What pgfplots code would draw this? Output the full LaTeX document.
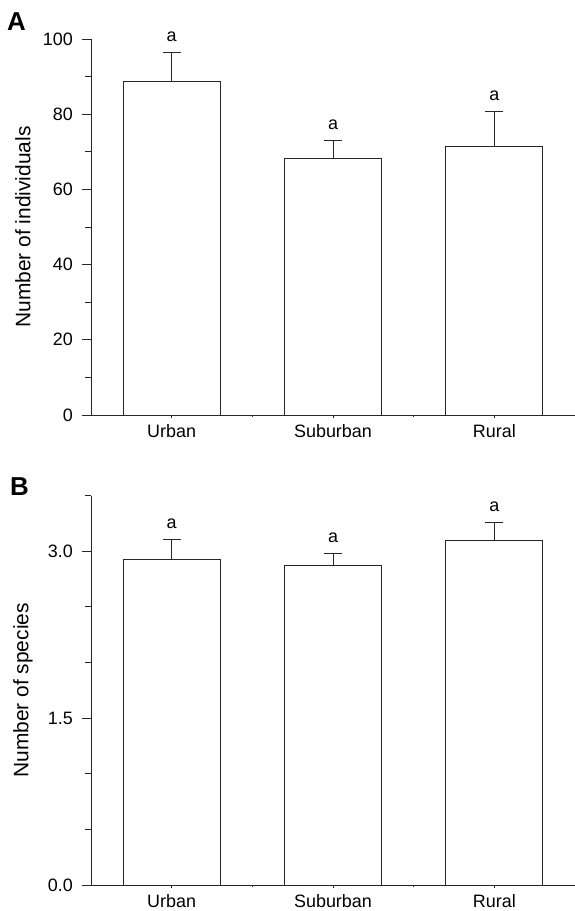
\documentclass[border=0pt]{standalone}
\usepackage{pgfplots}
\pgfplotsset{compat=1.18}
\usepackage{fontspec}
\setmainfont{Liberation Sans}

\pgfplotsset{
  panel/.style={
    scale only axis, width=484bp,
    xmin=-0.5, xmax=2.5, ymin=0,
    clip=false,
    axis x line=bottom, axis y line=left,
    axis line style={-, line width=0.9bp, black!85},
    every tick/.style={line width=0.9bp, black!85},
    xtick={0,1,2}, xticklabels={Urban,Suburban,Rural},
    xtick style={draw=none},
    tick align=outside,
    major tick length=9bp, minor tick length=6bp,
    font=\fontsize{18}{20}\selectfont,
    /pgf/number format/assume math mode=true,
    ticklabel style={font=\fontsize{18}{20}\selectfont},
    xticklabel style={anchor=base, yshift=-13bp, inner sep=0pt},
    yticklabel style={inner sep=0pt, xshift=-9bp},
    every axis y label/.style={at={(axis description cs:0,0.5)},
      xshift=-68bp, rotate=90, anchor=center,
      font=\fontsize{21}{24}\selectfont},
  },
  bars/.style={
    ybar, bar width=0.6, fill=white, draw=black!85, line width=0.9bp,
    error bars/.cd, y dir=plus, y explicit,
    error bar style={line width=0.9bp, black!85},
    error mark options={rotate=90, mark size=9bp, line width=0.9bp, black!85},
  },
  letters/.style={
    draw=none, mark=none, nodes near coords={a},
    every node near coord/.append style={anchor=base, yshift=11bp,
      font=\fontsize{18}{20}\selectfont},
  },
}

\begin{document}
\begin{tikzpicture}
\path[use as bounding box] (0,0) rectangle (575bp,-911bp);

% panel A: individuals
\begin{axis}[panel, at={(91bp,-415bp)}, anchor=south west,
  height=376bp, ymax=100,
  ytick={0,20,...,100}, minor ytick={10,30,...,90},
  ylabel={Number of individuals}]
\addplot[bars] coordinates {
  (0,88.8) +- (0,7.5)
  (1,68.1) +- (0,4.9)
  (2,71.3) +- (0,9.4)
};
\addplot[letters] coordinates {(0,96.3) (1,73.0) (2,80.7)};
\pgfplotsinvokeforeach{0,1,2}{\draw[line width=0.9bp, black!85] (axis cs:#1,0) -- ([yshift=-3bp]axis cs:#1,0);}
\pgfplotsinvokeforeach{0.5,1.5}{\draw[line width=0.9bp, black!85] (axis cs:#1,0) -- ([yshift=-2bp]axis cs:#1,0);}
\end{axis}

% panel B: species
\begin{axis}[panel, at={(91bp,-885bp)}, anchor=south west,
  height=389.3bp, ymax=3.5,
  ytick={0,1.5,3}, minor ytick={0.5,1,2,2.5,3.5},
  yticklabel style={/pgf/number format/.cd, fixed, fixed zerofill, precision=1},
  ylabel={Number of species}]
\addplot[bars] coordinates {
  (0,2.93) +- (0,0.18)
  (1,2.87) +- (0,0.11)
  (2,3.10) +- (0,0.16)
};
\addplot[letters] coordinates {(0,3.11) (1,2.98) (2,3.26)};
\pgfplotsinvokeforeach{0,1,2}{\draw[line width=0.9bp, black!85] (axis cs:#1,0) -- ([yshift=-3bp]axis cs:#1,0);}
\pgfplotsinvokeforeach{0.5,1.5}{\draw[line width=0.9bp, black!85] (axis cs:#1,0) -- ([yshift=-2bp]axis cs:#1,0);}
\end{axis}

\node[anchor=base west, inner sep=0pt, font=\fontsize{26}{28}\selectfont\bfseries] at (7bp,-30bp) {A};
\node[anchor=base west, inner sep=0pt, font=\fontsize{26}{28}\selectfont\bfseries] at (10bp,-495bp) {B};
\end{tikzpicture}
\end{document}
